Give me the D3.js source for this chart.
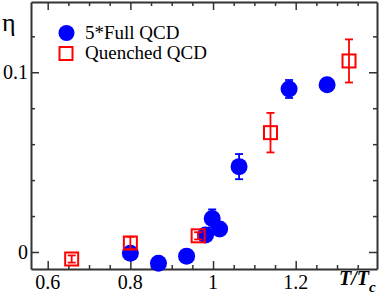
<!DOCTYPE html>
<html>
<head>
<meta charset="utf-8">
<script src="https://cdn.jsdelivr.net/npm/d3@7"></script>
<style>
  body { margin: 0; background: #fff; }
</style>
</head>
<body>
<div id="chart"></div>
<script>
// data
var fullT   = [0.800, 0.868, 0.936, 0.982, 0.998, 1.016, 1.063, 1.184, 1.276];
var fullEta = [-0.0007, -0.0063, -0.0023, 0.0095, 0.0187, 0.0128, 0.0475, 0.0907, 0.0930];
var fullErr = [0.002, 0.002, 0.002, 0.002, 0.005, 0.002, 0.007, 0.005, 0.002];

var quenchedT   = [0.658, 0.800, 0.964, 1.139, 1.329];
var quenchedEta = [-0.0039, 0.0050, 0.0090, 0.0664, 0.1063];
var quenchedErr = [0.002, 0.0035, 0.002, 0.011, 0.012];

var xMajor = [0.6, 0.8, 1.0, 1.2];
var xLabels = ["0.6", "0.8", "1", "1.2"];
var yMajor = [0, 0.1];
var yLabels = ["0", "0.1"];

var legendNames = ["5*Full QCD", "Quenched QCD"];

var margin = {top: 2, right: 3, bottom: 33, left: 31};
margin.width = 380 - margin.left - margin.right;
margin.height = 302 - margin.top - margin.bottom;

var blue = "#0000ff", red = "#ff0000", axisCol = "#333";
var serif = "'Liberation Serif', 'Times New Roman', 'DejaVu Serif', serif";

var x = d3.scaleLinear().domain([0.5596, 1.3967]).range([0, margin.width]);
var y = d3.scaleLinear().domain([-0.00946, 0.1391]).range([margin.height, 0]);

var svg = d3.select("#chart").append("svg")
    .attr("width", 380)
    .attr("height", 302)
    .attr("font-family", serif);

var g = svg.append("g")
    .attr("transform", "translate(" + margin.left + "," + margin.top + ")");

// minor tick positions
var xMinor = d3.range(0.6, 1.39, 0.05).filter(function(v) {
  return !xMajor.some(function(m) { return Math.abs(m - v) < 1e-6; });
});
var yMinor = d3.range(0.02, 0.13, 0.02).filter(function(v) {
  return Math.abs(v - 0.1) > 1e-6;
});

// ticks point inwards on all four sides
var xb = g.append("g").attr("transform", "translate(0," + margin.height + ")")
  .call(d3.axisBottom(x).tickValues(xMajor.concat(xMinor)).tickFormat("").tickSizeOuter(0));
var xt = g.append("g")
  .call(d3.axisTop(x).tickValues(xMajor.concat(xMinor)).tickFormat("").tickSizeOuter(0));
var yl = g.append("g")
  .call(d3.axisLeft(y).tickValues(yMajor.concat(yMinor)).tickFormat("").tickSizeOuter(0));
var yr = g.append("g").attr("transform", "translate(" + margin.width + ",0)")
  .call(d3.axisRight(y).tickValues(yMajor.concat(yMinor)).tickFormat("").tickSizeOuter(0));

function isMajor(list) {
  return function(d) { return list.some(function(m) { return Math.abs(m - d) < 1e-6; }); };
}
xb.selectAll(".tick line").attr("y2", function(d) { return isMajor(xMajor)(d) ? -8 : -4; });
xt.selectAll(".tick line").attr("y2", function(d) { return isMajor(xMajor)(d) ? 8 : 4; });
yl.selectAll(".tick line").attr("x2", function(d) { return isMajor(yMajor)(d) ? 8 : 4; });
yr.selectAll(".tick line").attr("x2", function(d) { return isMajor(yMajor)(d) ? -8 : -4; });

[xb, xt, yl, yr].forEach(function(a) {
  a.select(".domain").attr("stroke", axisCol).attr("stroke-width", 2);
  a.selectAll(".tick line").attr("stroke", axisCol).attr("stroke-width", 1.5);
});

// tick labels
g.selectAll(".xlab")
  .data(xMajor)
  .enter().append("text")
  .attr("x", function(d) { return x(d); })
  .attr("y", margin.height + 20)
  .attr("text-anchor", "middle")
  .attr("font-family", serif)
  .attr("font-size", 20)
  .text(function(d, i) { return xLabels[i]; });

g.selectAll(".ylab")
  .data(yMajor)
  .enter().append("text")
  .attr("x", -3)
  .attr("y", function(d) { return y(d); })
  .attr("dy", "0.35em")
  .attr("text-anchor", "end")
  .attr("font-family", serif)
  .attr("font-size", 20)
  .text(function(d, i) { return yLabels[i]; });

// axis titles
svg.append("text")
  .attr("x", 2)
  .attr("y", 31)
  .attr("font-family", serif)
  .attr("font-size", 26)
  .text("η");

var xTitle = svg.append("text")
  .attr("x", 339)
  .attr("y", 285)
  .attr("font-family", serif)
  .attr("font-size", 20)
  .attr("font-weight", "bold")
  .attr("font-style", "italic")
  .text("T/T");
xTitle.append("tspan")
  .attr("dy", 7)
  .attr("font-size", 15)
  .text("c");

var full = fullT.map(function(t, i) { return {t: t, eta: fullEta[i], err: fullErr[i]}; });
var quenched = quenchedT.map(function(t, i) { return {t: t, eta: quenchedEta[i], err: quenchedErr[i]}; });

function errorBars(data, color) {
  var eb = g.append("g").attr("stroke", color).attr("stroke-width", 1.8).attr("fill", "none");
  eb.selectAll(".v").data(data).enter().append("line")
    .attr("x1", function(d) { return x(d.t); })
    .attr("x2", function(d) { return x(d.t); })
    .attr("y1", function(d) { return y(d.eta - d.err); })
    .attr("y2", function(d) { return y(d.eta + d.err); });
  [-1, 1].forEach(function(s) {
    eb.selectAll(".c" + s).data(data).enter().append("line")
      .attr("x1", function(d) { return x(d.t) - 4; })
      .attr("x2", function(d) { return x(d.t) + 4; })
      .attr("y1", function(d) { return y(d.eta + s * d.err); })
      .attr("y2", function(d) { return y(d.eta + s * d.err); });
  });
}

// full QCD: error bars then circles
errorBars(full, blue);
g.selectAll(".full")
  .data(full)
  .enter().append("circle")
  .attr("cx", function(d) { return x(d.t); })
  .attr("cy", function(d) { return y(d.eta); })
  .attr("r", 8.5)
  .attr("fill", blue);

// quenched: error bars then open squares
errorBars(quenched, red);
g.selectAll(".quenched")
  .data(quenched)
  .enter().append("rect")
  .attr("x", function(d) { return x(d.t) - 6.5; })
  .attr("y", function(d) { return y(d.eta) - 6.5; })
  .attr("width", 13)
  .attr("height", 13)
  .attr("fill", "none")
  .attr("stroke", red)
  .attr("stroke-width", 2);

// legend
var legend = svg.append("g");
legend.append("circle").attr("cx", 66.5).attr("cy", 33).attr("r", 8).attr("fill", blue);
legend.append("rect").attr("x", 59.5).attr("y", 47).attr("width", 13).attr("height", 13)
  .attr("fill", "none").attr("stroke", red).attr("stroke-width", 2);
legend.selectAll(".lt")
  .data(legendNames)
  .enter().append("text")
  .attr("x", 85)
  .attr("y", function(d, i) { return 39 + i * 20; })
  .attr("font-family", serif)
  .attr("font-size", 19)
  .text(function(d) { return d; });
</script>
</body>
</html>
